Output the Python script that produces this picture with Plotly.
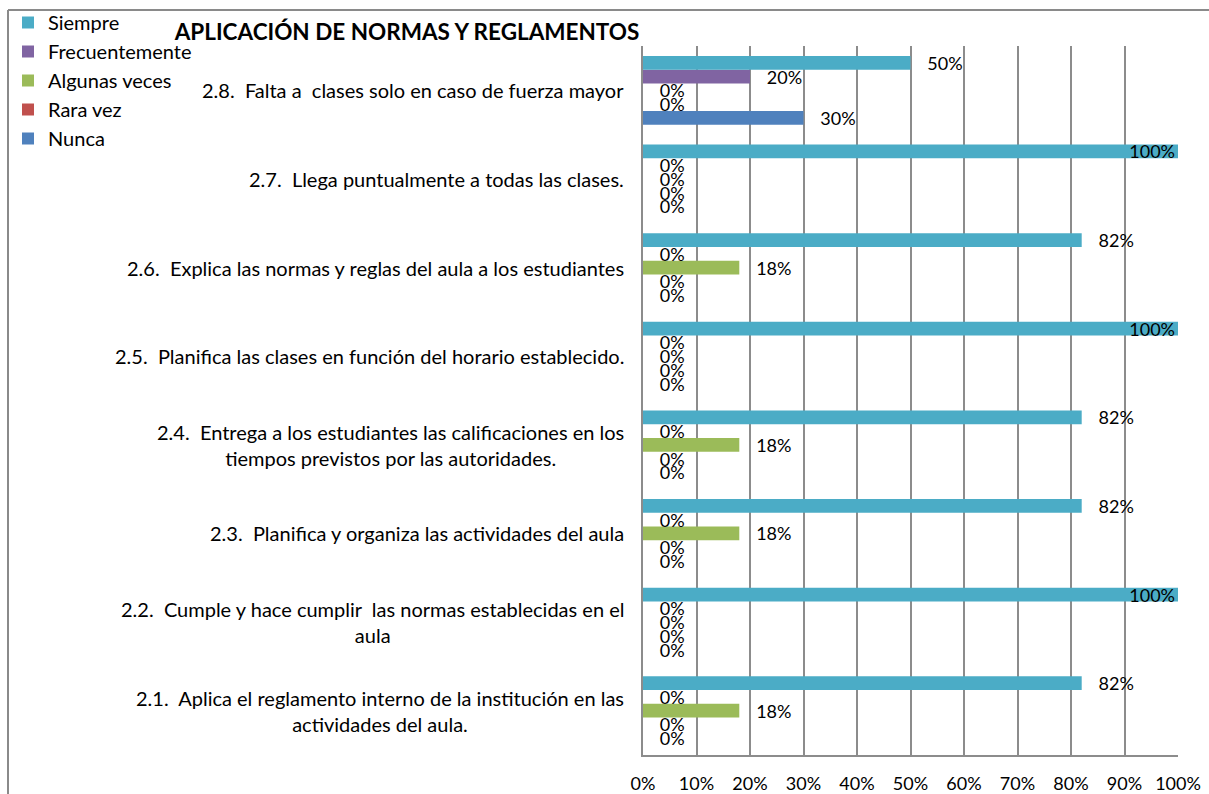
import plotly.graph_objects as go

# ---- data ----
keys = ["2.1", "2.2", "2.3", "2.4", "2.5", "2.6", "2.7", "2.8"]
labels = [
    "2.1.  Aplica el reglamento interno de la institución en las<br>actividades del aula.",
    "2.2.  Cumple y hace cumplir  las normas establecidas en el<br>aula",
    "2.3.  Planifica y organiza las actividades del aula",
    "2.4.  Entrega a los estudiantes las calificaciones en los<br>tiempos previstos por las autoridades.",
    "2.5.  Planifica las clases en función del horario establecido.",
    "2.6.  Explica las normas y reglas del aula a los estudiantes",
    "2.7.  Llega puntualmente a todas las clases.",
    "2.8.  Falta a  clases solo en caso de fuerza mayor",
]
nunca = [0, 0, 0, 0, 0, 0, 0, 30]
rara_vez = [0, 0, 0, 0, 0, 0, 0, 0]
algunas_veces = [18, 0, 18, 18, 0, 18, 0, 0]
frecuentemente = [0, 0, 0, 0, 0, 0, 0, 20]
siempre = [82, 100, 82, 82, 100, 82, 100, 50]

series_names = ["Nunca", "Rara vez", "Algunas veces", "Frecuentemente", "Siempre"]
series_values = [nunca, rara_vez, algunas_veces, frecuentemente, siempre]
colors = ["#4F81BD", "#C0504D", "#9BBB59", "#8064A2", "#4BACC6"]
x_ticks = list(range(0, 101, 10))
title = "APLICACIÓN DE NORMAS Y REGLAMENTOS"

FONT = "Lato"
FS_LAB = 20
FS_DATA = 18
W, H = 1209, 794
ML, MR, MT, MB = 643, 31, 46, 39
NB = "\u00a0"


def fix_spaces(s):
    return s.replace("  ", " " + NB)


fig = go.Figure()
for name, vals, col in zip(series_names, series_values, colors):
    txt = [(f"{v}%" if v >= 100 else NB * 3 + f"{v}%") for v in vals]
    pos = ["inside" if v >= 100 else "outside" for v in vals]
    fig.add_trace(go.Bar(
        y=keys, x=vals, name=name, orientation="h",
        marker=dict(color=col, line=dict(width=0)),
        text=txt, textposition=pos, insidetextanchor="end",
        textfont=dict(family=FONT, size=FS_DATA, color="#000000"),
        insidetextfont=dict(family=FONT, size=FS_DATA, color="#000000"),
        outsidetextfont=dict(family=FONT, size=FS_DATA, color="#000000"),
        constraintext="none", cliponaxis=False,
        legendgroup=name, hoverinfo="skip",
    ))

annotations = []
for k, lab in zip(keys, labels):
    annotations.append(dict(
        x=0, xref="paper", y=k, yref="y", xanchor="right", yanchor="middle",
        xshift=-17, text=fix_spaces(lab), align="center", showarrow=False,
        font=dict(family=FONT, size=FS_LAB, color="#000000"),
    ))

pw = W - ML - MR
ph = H - MT - MB


def px_x(px):
    return (px - ML) / pw


def px_y(py):
    return (H - MB - py) / ph


shapes = [
    dict(type="line", xref="paper", yref="paper", x0=px_x(8), x1=px_x(8),
         y0=px_y(10), y1=px_y(H + 20), line=dict(color="#8a8a8a", width=2)),
    dict(type="line", xref="paper", yref="paper", x0=px_x(8), x1=px_x(W + 20),
         y0=px_y(10), y1=px_y(10), line=dict(color="#8a8a8a", width=2)),
]

fig.update_layout(
    width=W, height=H,
    margin=dict(l=ML, r=MR, t=MT, b=MB),
    template="none",
    paper_bgcolor="white", plot_bgcolor="white",
    barmode="group", bargap=0.224, bargroupgap=0,
    font=dict(family=FONT, size=FS_LAB, color="#000000"),
    title=dict(text=f"<b>{title}</b>", x=407 / W, xanchor="center", xref="container",
               y=1 - 32 / H, yanchor="middle", yref="container",
               font=dict(family=FONT, size=22.5, color="#000000")),
    legend=dict(traceorder="reversed", xref="container", yref="container",
                x=8 / W, y=1 - 3 / H, xanchor="left", yanchor="top",
                font=dict(family=FONT, size=FS_LAB, color="#000000"),
                itemwidth=30, tracegroupgap=2, bgcolor="rgba(0,0,0,0)"),
    xaxis=dict(range=[0, 100], tickvals=x_ticks, ticktext=[f"{v}%" for v in x_ticks],
               showgrid=True, gridcolor="#8c8c8c", gridwidth=1.5,
               showline=True, linecolor="#8c8c8c", linewidth=1.5,
               ticks="", ticklabelstandoff=12, zeroline=False,
               tickfont=dict(family=FONT, size=FS_DATA, color="#000000")),
    yaxis=dict(categoryorder="array", categoryarray=keys, showticklabels=False,
               showgrid=False, showline=True, linecolor="#8c8c8c", linewidth=1.5,
               ticks="", zeroline=False),
    annotations=annotations, shapes=shapes,
)

fig.write_html("out.html", config={"displayModeBar": False},
               post_script="document.body.style.margin='0px';")
